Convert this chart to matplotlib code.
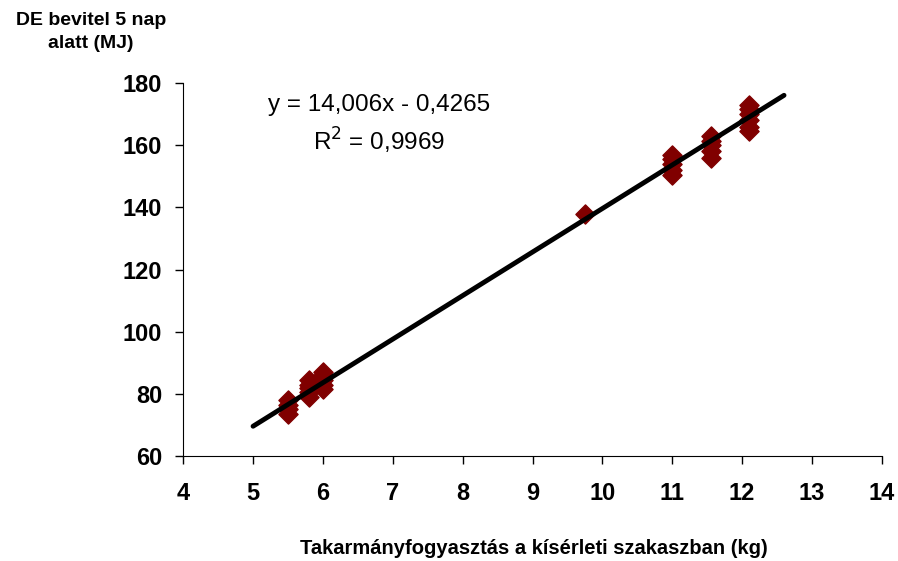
import matplotlib.pyplot as plt

plt.rcParams['font.family'] = ['Liberation Sans', 'DejaVu Sans']

# Feed intake (kg) and DE intake (MJ)
feed_kg = [5.5, 5.5, 5.5, 5.5,
           5.8, 5.8, 5.8, 5.8, 5.8,
           6.0, 6.0, 6.0, 6.0, 6.0,
           9.75,
           11.0, 11.0, 11.0, 11.0, 11.0,
           11.55, 11.55, 11.55, 11.55, 11.55,
           12.1, 12.1, 12.1, 12.1, 12.1, 12.1]
de_mj = [73.5, 75, 76.5, 78,
         79, 80.5, 82, 83, 84.5,
         81.5, 83, 84.5, 86, 87,
         138,
         150.5, 152, 154, 155.5, 157,
         156, 158, 160, 161.5, 163,
         164.5, 166, 168, 170, 171.5, 173]

# Trendline from the chart's equation
slope, intercept = 14.006, -0.4265
trend_x = [5.0, 12.6]
trend_y = [slope * x + intercept for x in trend_x]

fig = plt.figure(figsize=(8.98, 5.61), dpi=100)
ax = fig.add_axes([0.204, 0.187, 0.778, 0.665])

ax.scatter(feed_kg, de_mj, marker='D', s=95, color='#800000', zorder=2)
ax.plot(trend_x, trend_y, color='black', lw=3.5, solid_capstyle='round', zorder=3)

ax.set_xlim(4, 14)
ax.set_ylim(60, 180)
ax.set_xticks(range(4, 15))
ax.set_yticks(range(60, 181, 20))
ax.tick_params(labelsize=17, direction='out', length=6, width=1)
ax.tick_params(axis='x', pad=13)
ax.tick_params(axis='y', pad=9)
for lbl in ax.get_xticklabels() + ax.get_yticklabels():
    lbl.set_fontweight('bold')
for s in ['top', 'right']:
    ax.spines[s].set_visible(False)

ax.text(0.28, 0.94, 'y = 14,006x - 0,4265', transform=ax.transAxes,
        fontsize=17.5, ha='center', va='center')
ax.text(0.28, 0.845, 'R$^2$ = 0,9969', transform=ax.transAxes,
        fontsize=17.5, ha='center', va='center')

fig.text(0.101, 0.943, 'DE bevitel 5 nap\nalatt (MJ)', ha='center', va='center',
         fontsize=14, fontweight='bold', linespacing=1.5)
fig.text(0.594, 0.022, 'Takarmányfogyasztás a kísérleti szakaszban (kg)',
         ha='center', va='center', fontsize=14.5, fontweight='bold')

plt.savefig('out.png', dpi=100)
